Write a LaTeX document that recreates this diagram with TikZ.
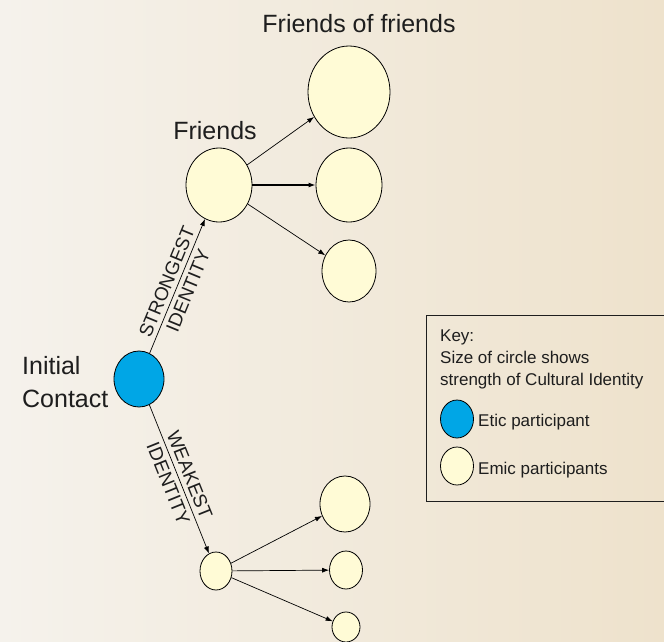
\documentclass[tikz,border=0pt]{standalone}
\usepackage{fontspec}
\setmainfont{Liberation Sans}
\usetikzlibrary{shapes.geometric,arrows.meta}
\definecolor{eticblue}{RGB}{0,166,230}
\definecolor{emicyellow}{RGB}{255,251,214}
\definecolor{paperL}{RGB}{245,242,236}
\definecolor{paperR}{RGB}{238,226,204}
\definecolor{inktext}{RGB}{30,30,30}
\newcommand\headfont{\fontsize{25}{33}\selectfont}
\newcommand\tagfont{\fontsize{19}{23}\selectfont}
\newcommand\keyfont{\fontsize{17}{22}\selectfont}

\begin{document}
\begin{tikzpicture}[x=1pt,y=-1pt,
  pers/.style 2 args={ellipse,draw,line width=0.8pt,inner sep=0pt,minimum width=#1,minimum height=#2},
  emic/.style 2 args={pers={#1}{#2},fill=emicyellow},
  etic/.style 2 args={pers={#1}{#2},fill=eticblue},
  conn/.style={line width=0.7pt,-{Latex[length=7pt,width=5pt]}},
  tag/.style={sloped,midway,align=center,font=\tagfont,inner sep=0pt,text=inktext},
  head/.style={font=\headfont,inner sep=0pt,text=inktext},
  keytxt/.style={font=\keyfont,inner sep=0pt,text=inktext}]
  \useasboundingbox (0,0) rectangle (664,641);
  \clip (0,0) rectangle (664,641);
  \shade[left color=paperL,right color=paperR] (0,0) rectangle (664,641);

  % people
  \node[etic={50pt}{56pt}] (init) at (139,379) {};
  \node[emic={66pt}{74pt}] (fr) at (219,185) {};
  \node[emic={82pt}{92pt}] (fof1) at (349,92) {};
  \node[emic={66pt}{74pt}] (fof2) at (349,185) {};
  \node[emic={54pt}{62pt}] (fof3) at (349,271) {};
  \node[emic={32pt}{38pt}] (weak) at (216,571) {};
  \node[emic={50pt}{56pt}] (wfof1) at (345,504) {};
  \node[emic={33pt}{38pt}] (wfof2) at (346,570) {};
  \node[emic={28pt}{30pt}] (wfof3) at (346,627) {};

  \node[head,anchor=base] (tfof) at (359,32) {Friends of friends};
  \node[head,anchor=base] (tfr) at (215,139) {Friends};
  \node[head,anchor=base west,align=left] (tinit) at (22,407) {Initial\\Contact};

  \draw[conn] (init) -- node[tag] {STRONGEST\\IDENTITY} (fr);
  \draw[conn] (init) -- node[tag] {WEAKEST\\IDENTITY} (weak);
  \draw[conn] (fr) -- (fof1);
  \draw[conn,line width=1.6pt] (fr) -- (fof2);
  \draw[conn] (fr) -- (fof3);
  \draw[conn] (weak) -- (wfof1);
  \draw[conn] (weak) -- (wfof2);
  \draw[conn] (weak) -- (wfof3);

  % key
  \draw[line width=0.8pt,inktext] (426,315) rectangle (668,501);
  \node[keytxt,anchor=base west,align=left] (tkey) at (440,385) {Key:\\Size of circle shows\\strength of Cultural Identity};
  \node[etic={33pt}{38pt}] (keyetic) at (457,419) {};
  \node[emic={33pt}{38pt}] (keyemic) at (457,466) {};
  \node[keytxt,anchor=base west] (tetic) at (478,426) {Etic participant};
  \node[keytxt,anchor=base west] (temic) at (478,474) {Emic participants};
\end{tikzpicture}
\end{document}
